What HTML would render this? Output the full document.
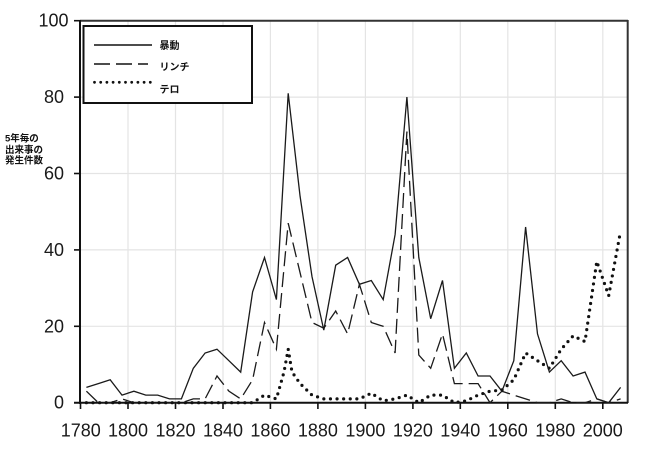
<!DOCTYPE html>
<html><head><meta charset="utf-8"><style>
html,body{margin:0;padding:0;background:#fff;}
svg{display:block;}
</style></head><body>
<svg width="650" height="456" viewBox="0 0 650 456" xmlns="http://www.w3.org/2000/svg">
<rect x="0" y="0" width="650" height="456" fill="#fff"/>
<!-- grid -->
<g stroke="#e4e4e4" stroke-width="1.2">
<line x1="128" y1="21" x2="128" y2="402"/>
<line x1="175.5" y1="21" x2="175.5" y2="402"/>
<line x1="223" y1="21" x2="223" y2="402"/>
<line x1="270.4" y1="21" x2="270.4" y2="402"/>
<line x1="317.9" y1="21" x2="317.9" y2="402"/>
<line x1="365.4" y1="21" x2="365.4" y2="402"/>
<line x1="412.9" y1="21" x2="412.9" y2="402"/>
<line x1="460.3" y1="21" x2="460.3" y2="402"/>
<line x1="507.8" y1="21" x2="507.8" y2="402"/>
<line x1="555.3" y1="21" x2="555.3" y2="402"/>
<line x1="602.8" y1="21" x2="602.8" y2="402"/>
<line x1="80" y1="326.3" x2="627" y2="326.3"/>
<line x1="80" y1="249.9" x2="627" y2="249.9"/>
<line x1="80" y1="173.5" x2="627" y2="173.5"/>
<line x1="80" y1="97.1" x2="627" y2="97.1"/>
</g>
<!-- frame -->
<line x1="80" y1="20.7" x2="628" y2="20.7" stroke="#333" stroke-width="2"/>
<line x1="627.7" y1="20" x2="627.7" y2="403" stroke="#333" stroke-width="2"/>
<line x1="80" y1="20" x2="80" y2="404" stroke="#111" stroke-width="2"/>
<line x1="74" y1="402.7" x2="628" y2="402.7" stroke="#111" stroke-width="2"/>
<!-- y ticks -->
<g stroke="#111" stroke-width="1.6">
<line x1="74" y1="326.3" x2="80" y2="326.3"/>
<line x1="74" y1="249.9" x2="80" y2="249.9"/>
<line x1="74" y1="173.5" x2="80" y2="173.5"/>
<line x1="74" y1="97.1" x2="80" y2="97.1"/>
<line x1="74" y1="20.7" x2="80" y2="20.7"/>
<!-- x ticks -->
<line x1="80.5" y1="402" x2="80.5" y2="409"/>
<line x1="128" y1="402" x2="128" y2="409"/>
<line x1="175.5" y1="402" x2="175.5" y2="409"/>
<line x1="223" y1="402" x2="223" y2="409"/>
<line x1="270.4" y1="402" x2="270.4" y2="409"/>
<line x1="317.9" y1="402" x2="317.9" y2="409"/>
<line x1="365.4" y1="402" x2="365.4" y2="409"/>
<line x1="412.9" y1="402" x2="412.9" y2="409"/>
<line x1="460.3" y1="402" x2="460.3" y2="409"/>
<line x1="507.8" y1="402" x2="507.8" y2="409"/>
<line x1="555.3" y1="402" x2="555.3" y2="409"/>
<line x1="602.8" y1="402" x2="602.8" y2="409"/>
</g>
<!-- y labels -->
<g font-family="Liberation Sans, Arial, sans-serif" font-size="18" fill="#1a1a1a" text-anchor="end">
<text x="64" y="408.5">0</text>
<text x="64" y="332.3">20</text>
<text x="64" y="255.9">40</text>
<text x="64" y="179.5">60</text>
<text x="64" y="103">80</text>
<text x="68.5" y="26.5">100</text>
</g>
<!-- x labels -->
<g font-family="Liberation Sans, Arial, sans-serif" font-size="18" fill="#1a1a1a" text-anchor="middle">
<text x="80.8" y="436.7">1780</text>
<text x="128" y="436.7">1800</text>
<text x="175.5" y="436.7">1820</text>
<text x="223" y="436.7">1840</text>
<text x="270.4" y="436.7">1860</text>
<text x="317.9" y="436.7">1880</text>
<text x="365.4" y="436.7">1900</text>
<text x="412.9" y="436.7">1920</text>
<text x="460.3" y="436.7">1940</text>
<text x="507.8" y="436.7">1960</text>
<text x="555.3" y="436.7">1980</text>
<text x="602.8" y="436.7">2000</text>
</g>
<!-- y title -->
<g font-family="Liberation Sans, 'Noto Sans CJK JP', sans-serif" font-size="9.5" font-weight="bold" fill="#111">
<text x="5" y="141.5">5年毎の</text>
<text x="5" y="152.8">出来事の</text>
<text x="5" y="163.5">発生件数</text>
</g>
<!-- series -->
<polyline fill="none" stroke="#1a1a1a" stroke-width="1.3" stroke-linejoin="miter" points="86.4,387.4 98.3,383.6 110.2,379.8 122.0,395.1 133.9,391.2 145.8,395.1 157.7,395.1 169.5,398.9 181.4,398.9 193.3,368.3 205.1,353.0 217.0,349.2 228.9,360.7 240.7,372.1 252.6,291.9 264.5,257.5 276.4,299.6 288.2,93.3 300.1,196.4 312.0,276.6 323.8,330.1 335.7,265.2 347.6,257.5 359.4,284.3 371.3,280.5 383.2,299.6 395.1,234.6 406.9,97.1 418.8,257.5 430.7,318.7 442.5,280.5 454.4,368.3 466.3,353.0 478.1,376.0 490.0,376.0 501.9,391.2 513.8,360.7 525.6,227.0 537.5,333.9 549.4,372.1 561.2,360.7 573.1,376.0 585.0,372.1 596.8,398.9 608.7,402.7 620.6,387.4"/>
<polyline fill="none" stroke="#1a1a1a" stroke-width="1.3" stroke-dasharray="15,6" points="86.4,391.2 98.3,402.7 110.2,402.7 122.0,398.9 133.9,402.7 145.8,402.7 157.7,402.7 169.5,402.7 181.4,402.7 193.3,398.9 205.1,398.9 217.0,376.0 228.9,391.2 240.7,398.9 252.6,379.8 264.5,322.5 276.4,349.2 288.2,223.2 300.1,272.8 312.0,322.5 323.8,328.2 335.7,311.0 347.6,333.9 359.4,284.3 371.3,322.5 383.2,326.3 395.1,353.0 406.9,131.5 418.8,355.0 430.7,368.3 442.5,333.9 454.4,383.6 466.3,383.6 478.1,383.6 490.0,402.7 501.9,391.2 513.8,395.1 525.6,398.9 537.5,402.7 549.4,402.7 561.2,398.9 573.1,402.7 585.0,402.7 596.8,398.9 608.7,402.7 620.6,398.9"/>
<polyline fill="none" stroke="#111" stroke-width="3.2" stroke-linecap="round" stroke-dasharray="0,6.6" points="86.4,402.7 252.6,402.7 264.5,395.1 276.4,398.9 284,372 288.2,349.2 292,372 300.1,383.6 312.0,395.1 323.8,398.9 335.7,398.9 347.6,398.9 359.4,398.9 371.3,393.2 383.2,400.8 395.1,398.9 406.9,395.1 418.8,402.7 430.7,395.1 442.5,395.1 454.4,402.7 466.3,400.8 478.1,395.1 490.0,391.2 501.9,390.1 513.8,379.8 525.6,353.0 537.5,360.7 549.4,368.3 561.2,349.2 573.1,335.9 585.0,341.6 596.8,261.4 608.7,295.7 620.6,230.8"/>
<!-- legend -->
<rect x="83.5" y="26" width="168.5" height="77" fill="#fff" stroke="#111" stroke-width="2"/>
<line x1="94" y1="45" x2="152" y2="45" stroke="#111" stroke-width="1.4"/>
<line x1="94" y1="64" x2="148" y2="64" stroke="#111" stroke-width="1.4" stroke-dasharray="16,6"/>
<line x1="94.5" y1="82.3" x2="151" y2="82.3" stroke="#111" stroke-width="2.8" stroke-linecap="round" stroke-dasharray="0,6.2"/>
<g font-family="Liberation Sans, 'Noto Sans CJK JP', sans-serif" font-size="10" font-weight="bold" fill="#111">
<text x="159.5" y="49">暴動</text>
<text x="159.5" y="70.5">リンチ</text>
<text x="159.5" y="93">テロ</text>
</g>
</svg>
</body></html>
